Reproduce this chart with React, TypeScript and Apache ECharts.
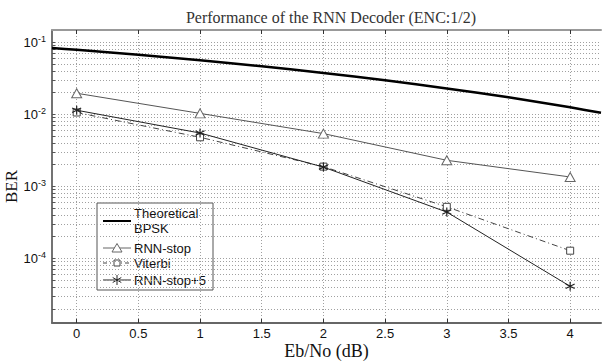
import React, { useEffect, useRef } from "react";
import * as echarts from "echarts";

// ---- data ----
const xTicks = [0, 0.5, 1, 1.5, 2, 2.5, 3, 3.5, 4];
const yDecades = [1e-1, 1e-2, 1e-3, 1e-4];
const yMinorMultipliers = [2, 3, 4, 5, 6, 7, 8, 9];
const yMinorDecades = [1e-5, 1e-4, 1e-3, 1e-2, 1e-1];

const ebno = [0, 1, 2, 3, 4];
const rnnStop = [0.0196, 0.0103, 0.0054, 0.0023, 0.00135];
const viterbi = [0.0106, 0.0048, 0.00188, 0.00052, 0.000128];
const rnnStop5 = [0.0114, 0.0055, 0.00185, 0.00044, 0.000041];

const bpskEbno = [-0.2, 0, 0.5, 1, 1.5, 2, 2.5, 3, 3.5, 4, 4.25];
const bpskBer = [0.0835, 0.0786, 0.0671, 0.0563, 0.0464, 0.0375, 0.0297, 0.0229, 0.0172, 0.0125, 0.0105];

const xMin = -0.2;
const xMax = 4.25;
const yMinVal = 1.27e-5;
const yMaxVal = 0.148;

const L = Math.log10;
const SERIF = "'Liberation Serif', 'Times New Roman', serif";
const SANS = "'Liberation Sans', Arial, sans-serif";

export default function App() {
  const ref = useRef<HTMLDivElement>(null);
  useEffect(() => {
    if (!ref.current) return;
    const chart = echarts.init(ref.current, undefined, { renderer: "svg" });
    const yMin = L(yMinVal);
    const yMax = L(yMaxVal);
    const majors = yDecades.map((v) => L(v));
    const gridVals: number[] = [...majors];
    yMinorDecades.forEach((d) =>
      yMinorMultipliers.forEach((m) => {
        const v = L(d * m);
        if (v > yMin && v < yMax) gridVals.push(v);
      })
    );
    const pairs = (xs: number[], ys: number[]) => xs.map((x, i) => [x, L(ys[i])]);
    const dotted = { color: "#a0a0a0", width: 1, type: [1, 2] as any };

    const lx0 = 103, lx1 = 131, lmx = 117;
    chart.setOption({
      animation: false,
      backgroundColor: "#fff",
      title: {
        text: "Performance of the RNN Decoder (ENC:1/2)",
        left: 326,
        textAlign: "center",
        top: 4,
        textStyle: { fontFamily: SERIF, fontSize: 16, fontWeight: "normal", color: "#333" },
      },
      grid: { left: 52, right: 1, top: 30, bottom: 39, show: false, containLabel: false, outerBoundsMode: "none" },
      xAxis: [
        {
          type: "value",
          min: xMin,
          max: xMax,
          name: "Eb/No (dB)",
          nameLocation: "middle",
          nameGap: 20,
          nameMoveOverlap: false,
          nameTextStyle: { fontFamily: SERIF, fontSize: 18, lineHeight: 16, color: "#111" },
          axisLine: { show: true, onZero: false, lineStyle: { color: "#666", width: 2 } },
          axisTick: { show: true, inside: true, length: 4, customValues: xTicks, lineStyle: { color: "#333" } },
          axisLabel: {
            customValues: xTicks,
            margin: 4,
            fontFamily: SANS,
            fontSize: 13,
            lineHeight: 13,
            color: "#111",
            formatter: (v: number) => String(v),
          },
          splitLine: { show: true, lineStyle: dotted },
        },
        {
          type: "value",
          position: "top",
          min: xMin,
          max: xMax,
          axisLine: { show: true, onZero: false, lineStyle: { color: "#999", width: 2 } },
          axisTick: { show: true, inside: true, length: 4, customValues: xTicks, lineStyle: { color: "#333" } },
          axisLabel: { show: false },
          splitLine: { show: false },
        },
      ],
      yAxis: {
        type: "value",
        min: yMin,
        max: yMax,
        name: "BER",
        nameLocation: "middle",
        nameGap: 32,
        nameRotate: 90,
        nameMoveOverlap: false,
        nameTextStyle: { fontFamily: SERIF, fontSize: 17, color: "#111", padding: [0, 20, 0, 0] },
        axisLine: { show: true, onZero: false, lineStyle: { color: "#444", width: 1.5 } },
        axisTick: { show: true, inside: true, length: 3, customValues: gridVals, lineStyle: { color: "#555" } },
        axisLabel: {
          customValues: majors,
          margin: 6,
          formatter: (v: number) => `{b|10}{s|${Math.round(v)}}`,
          rich: {
            b: { fontFamily: SANS, fontSize: 13, color: "#111", lineHeight: 16 },
            s: { fontFamily: SANS, fontSize: 9, color: "#111", verticalAlign: "top", lineHeight: 9 },
          },
        },
        splitLine: { show: true, lineStyle: dotted },
      },
      series: [
        {
          name: "Theoretical BPSK",
          type: "line",
          data: pairs(bpskEbno, bpskBer),
          symbol: "none",
          smooth: 0.2,
          lineStyle: { color: "#000", width: 2.5 },
          z: 3,
        },
        {
          name: "RNN-stop",
          type: "line",
          data: pairs(ebno, rnnStop),
          symbol: "triangle",
          symbolSize: [10, 9],
          itemStyle: { color: "#fff", borderColor: "#666", borderWidth: 1 },
          lineStyle: { color: "#555", width: 1 },
          z: 4,
        },
        {
          name: "Viterbi",
          type: "line",
          data: pairs(ebno, viterbi),
          symbol: "rect",
          symbolSize: 7,
          itemStyle: { color: "#fff", borderColor: "#444", borderWidth: 1 },
          lineStyle: { color: "#444", width: 1, type: [6, 3, 1, 3] },
          z: 4,
        },
        {
          name: "RNN-stop+5",
          type: "line",
          data: pairs(ebno, rnnStop5),
          symbol: "path://M0,-5L0,5M-4.3,-2.5L4.3,2.5M-4.3,2.5L4.3,-2.5",
          symbolSize: 9,
          itemStyle: { color: "transparent", borderColor: "#222", borderWidth: 1.2 },
          lineStyle: { color: "#222", width: 1 },
          z: 5,
        },
      ],
      graphic: [
        {
          type: "group",
          z: 100,
          children: [
            { type: "rect", shape: { x: 97, y: 203, width: 116, height: 87 }, style: { fill: "#fff", stroke: "#555", lineWidth: 1 } },
            { type: "line", shape: { x1: lx0, y1: 221, x2: lx1, y2: 221 }, style: { stroke: "#000", lineWidth: 2 } },
            { type: "text", x: 134, y: 213, style: { text: "Theoretical", font: `13px ${SANS}`, fill: "#111", verticalAlign: "middle" } },
            { type: "text", x: 134, y: 228, style: { text: "BPSK", font: `13px ${SANS}`, fill: "#111", verticalAlign: "middle" } },
            { type: "line", shape: { x1: lx0, y1: 248, x2: lx1, y2: 248 }, style: { stroke: "#666", lineWidth: 1 } },
            { type: "polygon", shape: { points: [[lmx, 243.5], [lmx - 5, 252], [lmx + 5, 252]] }, style: { fill: "#fff", stroke: "#666", lineWidth: 1 } },
            { type: "text", x: 134, y: 248, style: { text: "RNN-stop", font: `13px ${SANS}`, fill: "#111", verticalAlign: "middle" } },
            { type: "line", shape: { x1: lx0, y1: 263, x2: lx1, y2: 263 }, style: { stroke: "#444", lineWidth: 1, lineDash: [4, 3, 1, 3] } },
            { type: "rect", shape: { x: lmx - 3, y: 260, width: 6, height: 6 }, style: { fill: "#fff", stroke: "#444", lineWidth: 1 } },
            { type: "text", x: 134, y: 263, style: { text: "Viterbi", font: `13px ${SANS}`, fill: "#111", verticalAlign: "middle" } },
            { type: "line", shape: { x1: lx0, y1: 280, x2: lx1, y2: 280 }, style: { stroke: "#222", lineWidth: 1 } },
            { type: "line", shape: { x1: lmx, y1: 275, x2: lmx, y2: 285 }, style: { stroke: "#222", lineWidth: 1 } },
            { type: "line", shape: { x1: lmx - 4.3, y1: 277.5, x2: lmx + 4.3, y2: 282.5 }, style: { stroke: "#222", lineWidth: 1 } },
            { type: "line", shape: { x1: lmx - 4.3, y1: 282.5, x2: lmx + 4.3, y2: 277.5 }, style: { stroke: "#222", lineWidth: 1 } },
            { type: "text", x: 134, y: 280, style: { text: "RNN-stop+5", font: `13px ${SANS}`, fill: "#111", verticalAlign: "middle" } },
          ],
        },
      ],
    });
    return () => chart.dispose();
  }, []);
  return (
    <div
      ref={ref}
      style={{ position: "fixed", left: 0, top: 0, width: 602, height: 362, background: "#fff" }}
    />
  );
}
